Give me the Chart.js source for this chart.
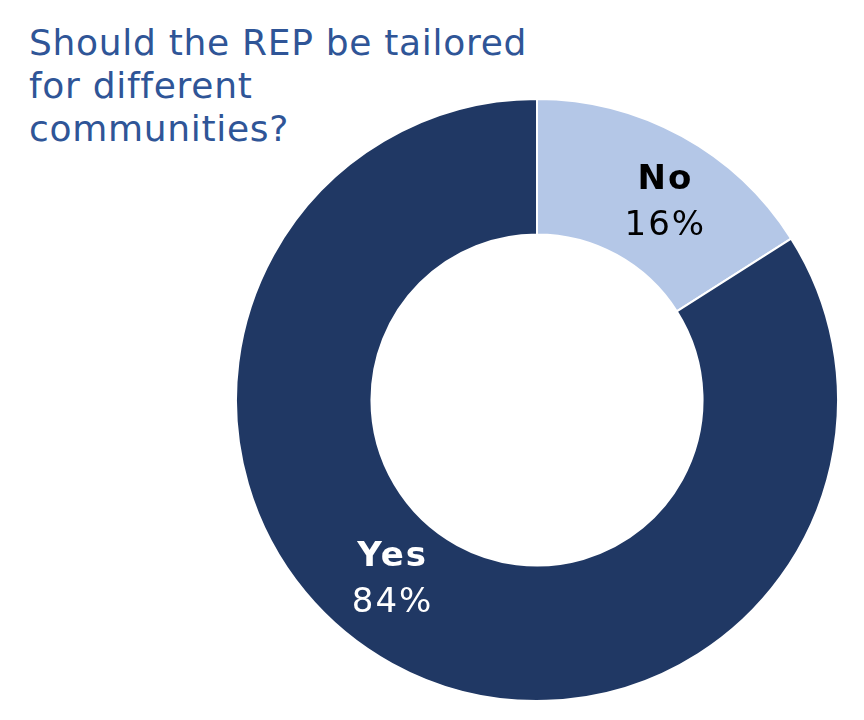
<!DOCTYPE html>
<html>
<head>
<meta charset="utf-8">
<script src="https://cdn.jsdelivr.net/npm/chart.js@4.4.0/dist/chart.umd.min.js"></script>
<style>
  html, body { margin: 0; padding: 0; background: #ffffff; }
  body { width: 864px; height: 720px; position: relative; overflow: hidden; }
  #title { position: absolute; left: 29px; top: 21px; font-family: "DejaVu Sans", Verdana, sans-serif; font-size: 36px; line-height: 43px; letter-spacing: 0.7px; color: #2F5597; margin: 0; font-weight: normal; }
  #wrap { position: absolute; left: 235px; top: 98px; width: 604px; height: 604px; }
</style>
</head>
<body>
<h1 id="title">Should the REP be tailored<br>for different<br>communities?</h1>
<div id="wrap"><canvas id="c"></canvas></div>
<script>
const categories = ["No", "Yes"];
const values = [16, 84];
const valueLabels = ["16%", "84%"];

const sliceColors = ["#B4C7E7", "#203864"];
const labelColors = ["#000000", "#ffffff"];
// pixel nudges for label placement relative to arc centroid
const labelNudge = [[16, 8], [-32, -24]];

const labelPlugin = {
  id: 'sliceLabels',
  afterDatasetsDraw(chart) {
    const ctx = chart.ctx;
    const meta = chart.getDatasetMeta(0);
    meta.data.forEach((arc, i) => {
      const p = arc.tooltipPosition();
      const x = p.x + labelNudge[i][0];
      const y = p.y + labelNudge[i][1];
      ctx.save();
      ctx.fillStyle = labelColors[i];
      ctx.textAlign = 'center';
      ctx.textBaseline = 'middle';
      try { ctx.letterSpacing = '2px'; } catch (e) {}
      ctx.font = 'bold 34px "DejaVu Sans", Verdana, sans-serif';
      ctx.fillText(categories[i], x, y - 23);
      ctx.font = '34px "DejaVu Sans", Verdana, sans-serif';
      ctx.fillText(valueLabels[i], x, y + 23);
      ctx.restore();
    });
  }
};

new Chart(document.getElementById('c'), {
  type: 'doughnut',
  data: {
    labels: categories,
    datasets: [{
      data: values,
      backgroundColor: sliceColors,
      borderColor: '#ffffff',
      borderWidth: 2
    }]
  },
  options: {
    responsive: true,
    maintainAspectRatio: false,
    animation: false,
    cutout: '55%',
    layout: { padding: 0 },
    plugins: {
      legend: { display: false },
      tooltip: { enabled: false },
      title: { display: false }
    }
  },
  plugins: [labelPlugin]
});
</script>
</body>
</html>
